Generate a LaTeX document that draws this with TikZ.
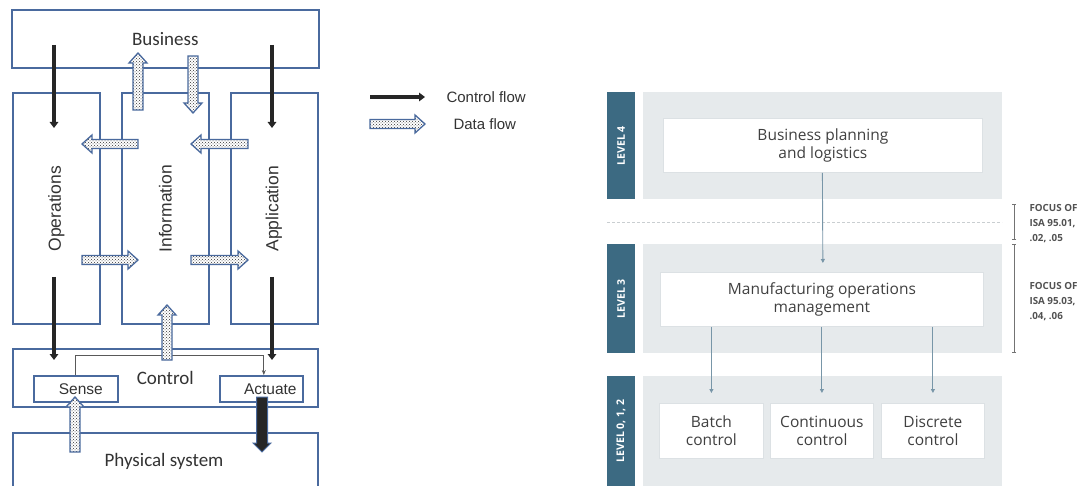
\documentclass[tikz,border=0pt]{standalone}
\usepackage{fontspec}
\setmainfont{Liberation Sans}
\newfontfamily\calib{Carlito}
\newfontfamily\osans{Open Sans}
\usetikzlibrary{arrows.meta,patterns}

\definecolor{frameblue}{HTML}{4A6A9E}
\definecolor{inkgray}{HTML}{333333}
\definecolor{barteal}{HTML}{3C6A82}
\definecolor{panelgray}{HTML}{E6EAEC}
\definecolor{boxedge}{HTML}{DCE1E4}
\definecolor{linkblue}{HTML}{7896A8}
\definecolor{labelgray}{HTML}{404040}
\definecolor{rulegray}{HTML}{C9CED1}

% hollow dotted block arrows (x, tail y, tip y) or (y, tail x, tip x)
\newcommand\flowup[3]{\path[dataflow] (#1-5,#2) -- (#1-5,#3+10) -- (#1-9,#3+10) -- (#1,#3) -- (#1+9,#3+10) -- (#1+5,#3+10) -- (#1+5,#2) -- cycle;}
\newcommand\flowdown[3]{\path[dataflow] (#1-5,#2) -- (#1-5,#3-10) -- (#1-9,#3-10) -- (#1,#3) -- (#1+9,#3-10) -- (#1+5,#3-10) -- (#1+5,#2) -- cycle;}
\newcommand\flowleft[3]{\path[dataflow] (#2,#1-4.5) -- (#3+10,#1-4.5) -- (#3+10,#1-9) -- (#3,#1) -- (#3+10,#1+9) -- (#3+10,#1+4.5) -- (#2,#1+4.5) -- cycle;}
\newcommand\flowright[3]{\path[dataflow] (#2,#1-4.5) -- (#3-10,#1-4.5) -- (#3-10,#1-9) -- (#3,#1) -- (#3-10,#1+9) -- (#3-10,#1+4.5) -- (#2,#1+4.5) -- cycle;}

\tikzset{
  layer/.style={draw=frameblue, line width=1.6, inner sep=0, anchor=north west},
  bigtext/.style={font=\calib\fontsize{19}{22}\selectfont, text=inkgray},
  sidetext/.style={font=\fontsize{17.5}{20}\selectfont, text=inkgray, rotate=90},
  smalltext/.style={font=\fontsize{15.5}{18}\selectfont, text=inkgray},
  legendtext/.style={font=\fontsize{15}{18}\selectfont, text=inkgray, anchor=west},
  ctrlflow/.style={draw=black!85, line width=3.6, -{Triangle[width=8.5pt,length=6pt]}},
  dataflow/.style={draw=frameblue, line width=1.3, line join=miter, preaction={fill=white}, pattern=crosshatch dots, pattern color=black!80},
  actblock/.style={draw=frameblue, line width=1, fill=black!85, line join=miter},
  route/.style={draw=black!65, line width=0.7, -{Stealth[width=4pt,length=5pt]}},
  levelbar/.style={fill=barteal, inner sep=0, anchor=north west},
  panel/.style={fill=panelgray, inner sep=0, anchor=north west},
  unitbox/.style={draw=boxedge, line width=0.8, fill=white, inner sep=0, anchor=north west,
    align=center, text=labelgray, font=\osans\fontsize{15.5}{17.5}\selectfont},
  leveltext/.style={text=white, font=\osans\bfseries\fontsize{10.5}{12}\selectfont, rotate=90},
  link/.style={draw=linkblue, line width=0.9, -{Triangle[width=4pt,length=4pt]}},
  span/.style={draw=black!55, line width=0.6, {Bar[width=4pt]}-{Bar[width=4pt]}},
  focustext/.style={anchor=west, align=left, text=black!68,
    font=\osans\bfseries\fontsize{9.8}{15}\selectfont},
}

\begin{document}
\begin{tikzpicture}[x=1pt,y=-1pt]
\fill[white] (0,0) rectangle (1079,486);
\path[use as bounding box] (0,0) rectangle (1079,486);

% ---------- layered architecture ----------
\node[layer, minimum width=307, minimum height=58, bigtext] (business) at (11,9) {Business};
\node[layer, minimum width=87, minimum height=231] (ops) at (12,92) {};
\node[layer, minimum width=87, minimum height=231] (info) at (121,92) {};
\node[layer, minimum width=87, minimum height=231] (app) at (230,92) {};
\node[sidetext] at ([yshift=-0.5]ops.center) {Operations};
\node[sidetext] at ([yshift=-0.5]info.center) {Information};
\node[sidetext] at ([xshift=-0.5,yshift=-0.5]app.center) {Application};

\node[layer, minimum width=305, minimum height=58, bigtext] (control) at (12,348) {Control};
\node[layer, minimum width=84, minimum height=26] (sense) at (33,375) {};
\node[layer, minimum width=83, minimum height=26] (actuate) at (219,375) {};
\node[smalltext] at ([xshift=5]sense.center) {Sense};
\node[smalltext] at ([xshift=9]actuate.center) {Actuate};

\node[layer, minimum width=305, minimum height=70] (physical) at (12,432) {};
\node[bigtext] at (164,461) {Physical system};

% internal loop from sensing to actuation
\draw[route] (sense.north) -- ++(0,-20) -| ([xshift=2.5]actuate.north);

% control flow
\draw[ctrlflow] (54,45) -- (54,128);
\draw[ctrlflow] (272,45) -- (272,128);
\draw[ctrlflow] (54,277) -- (54,360);
\draw[ctrlflow] (272,277) -- (272,360);

% data flow
\flowup{138}{110}{53}
\flowdown{193}{56}{113}
\flowleft{144}{138}{82}
\flowleft{144}{248}{191}
\flowright{260}{82}{138}
\flowright{260}{191}{248}
\flowup{167}{360}{305}
\flowup{75}{452}{397}

% actuation into the physical system
\path[actblock] (256.5,397) -- (256.5,443) -- (253,443) -- (262,452) -- (271,443) -- (267.5,443) -- (267.5,397) -- cycle;

% legend
\coordinate (cf0) at (370,97);
\coordinate (cf1) at (425,97);
\draw[ctrlflow] (cf0) -- (cf1);
\node[legendtext] at (443,97) {Control flow};
\flowright{124}{370}{425}
\node[legendtext] at (450,124) {Data flow};

% ---------- ISA-95 levels ----------
\node[levelbar, minimum width=28, minimum height=107] (bar4) at (607,92) {};
\node[panel, minimum width=359, minimum height=107] (lev4) at (643,92) {};
\node[levelbar, minimum width=28, minimum height=109] (bar3) at (607,244) {};
\node[panel, minimum width=359, minimum height=109] (lev3) at (643,244) {};
\node[levelbar, minimum width=28, minimum height=115] (bar0) at (607,376) {};
\node[panel, minimum width=359, minimum height=115] (lev0) at (643,376) {};

\node[leveltext] at (bar4.center) {LEVEL 4};
\node[leveltext] at (bar3.center) {LEVEL 3};
\node[leveltext] at (621,431) {LEVEL 0, 1, 2};

\draw[rulegray, line width=0.8, dash pattern=on 3pt off 2pt] (607,222) -- (1002,222);

\node[unitbox, minimum width=319, minimum height=54] (bpl) at (663,118) {Business planning\\and logistics};
\node[unitbox, minimum width=323, minimum height=54] (mom) at (660,272) {Manufacturing operations\\management};
\node[unitbox, minimum width=104, minimum height=55] (batch) at (659,403) {Batch\\control};
\node[unitbox, minimum width=103, minimum height=55] (cont) at (770,403) {Continuous\\control};
\node[unitbox, minimum width=103, minimum height=55] (disc) at (881,403) {Discrete\\control};

\draw[link, shorten >=9pt] ([xshift=-0.5]bpl.south) -- (bpl.south |- mom.north);
\draw[link, shorten >=10pt] (batch.north |- mom.south) -- (batch.north);
\draw[link, shorten >=10pt] (cont.north |- mom.south) -- (cont.north);
\draw[link, shorten >=10pt] (disc.north |- mom.south) -- (disc.north);

\coordinate (s1a) at (1014,204);
\coordinate (s1b) at (1014,240);
\coordinate (s2a) at (1014,244);
\coordinate (s2b) at (1014,353);
\draw[span] (s1a) -- (s1b);
\draw[span] (s2a) -- (s2b);
\node[focustext] at (1026,224) {FOCUS OF\\ISA 95.01,\\.02, .05};
\node[focustext] at (1026,302) {FOCUS OF\\ISA 95.03,\\.04, .06};
\end{tikzpicture}
\end{document}
